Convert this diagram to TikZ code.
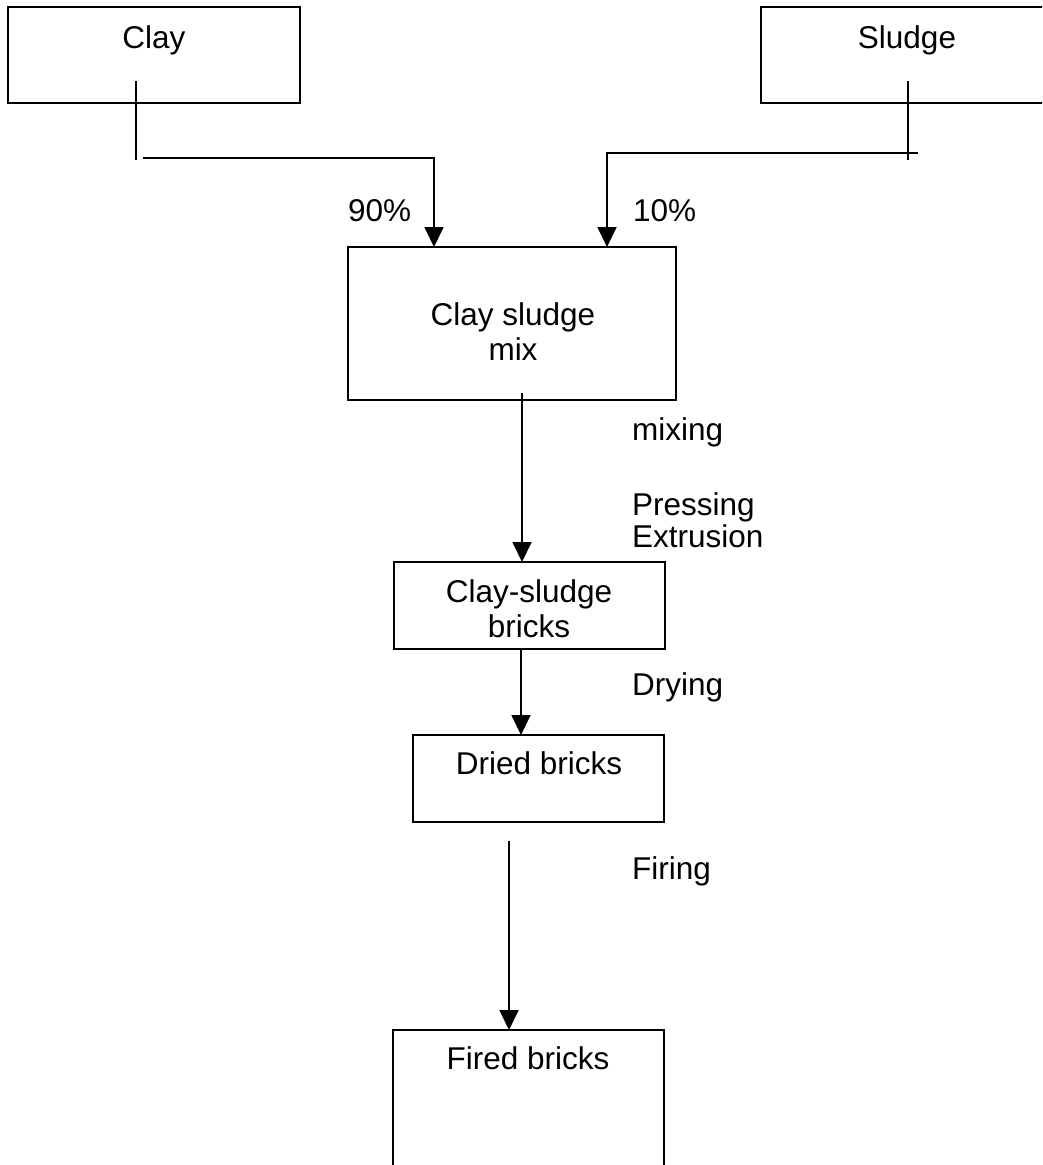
\documentclass[tikz,border=0pt]{standalone}
\usepackage{fontspec}
\setmainfont{Liberation Sans}
\usetikzlibrary{arrows.meta}
\begin{document}
\begin{tikzpicture}[x=1pt,y=-1pt,
  box/.style={draw, line width=1.8pt, rectangle, inner sep=0pt, outer sep=0pt},
  txt/.style={inner sep=0pt, anchor=base, font=\fontsize{31.5}{35}\selectfont},
  side/.style={txt, anchor=base west},
  flow/.style={line width=1.8pt},
  arr/.style={flow, -{Triangle[width=19pt,length=20pt]}}]
\useasboundingbox (0,0) rectangle (1042,1165);
\fill[white] (0,0) rectangle (1042,1165);
\clip (0,0) rectangle (1042,1165);

% process boxes
\node[box, minimum width=292pt, minimum height=96pt] (clay) at (154,55) {};
\node[box, minimum width=309pt, minimum height=96pt] (sludge) at (915.5,55) {};
\node[box, minimum width=328pt, minimum height=153pt] (mix) at (512,323.5) {};
\node[box, minimum width=271pt, minimum height=87pt] (bricks) at (529.5,605.5) {};
\node[box, minimum width=251pt, minimum height=87pt] (dried) at (538.5,778.5) {};
\node[box, minimum width=271pt, minimum height=160pt] (fired) at (528.5,1110) {};

% box texts
\node[txt] (claytxt) at (154,48) {Clay};
\node[txt] (sludgetxt) at (907,48) {Sludge};
\node[txt] (mixtxt1) at (513,325) {Clay sludge};
\node[txt] (mixtxt2) at (513,360) {mix};
\node[txt] (brickstxt1) at (529,602) {Clay-sludge};
\node[txt] (brickstxt2) at (529,637) {bricks};
\node[txt] (driedtxt) at (539,774) {Dried bricks};
\node[txt] (firedtxt) at (528,1069) {Fired bricks};

% step labels
\node[side] (p90) at (348,221) {90\%};
\node[side] (p10) at (633,221) {10\%};
\node[side] (lmixing) at (632,440) {mixing};
\node[side] (lpress) at (632,515) {Pressing};
\node[side] (lextr) at (632,547) {Extrusion};
\node[side] (ldry) at (632,695) {Drying};
\node[side] (lfire) at (632,879) {Firing};

% routing points
\coordinate (clayout) at (136,81);
\coordinate (claylow) at (136,160);
\coordinate (clayrun) at (143,158);
\coordinate (claydrop) at (434,158);
\coordinate (sludgeout) at (908,81);
\coordinate (sludgelow) at (908,160);
\coordinate (sludgerun) at (918,153);
\coordinate (sludgedrop) at (607,153);
\coordinate (mixout) at (522,393);
\coordinate (bricksout) at (521,649);
\coordinate (driedout) at (509,841);

% connectors
\draw[flow] (clayout) -- (claylow);
\draw[arr] (clayrun) -- (claydrop) -- (mix.north -| claydrop);
\draw[flow] (sludgeout) -- (sludgelow);
\draw[arr] (sludgerun) -- (sludgedrop) -- (mix.north -| sludgedrop);
\draw[arr] (mixout) -- (bricks.north -| mixout);
\draw[arr] (bricksout) -- (dried.north -| bricksout);
\draw[arr] (driedout) -- (fired.north -| driedout);
\end{tikzpicture}
\end{document}
